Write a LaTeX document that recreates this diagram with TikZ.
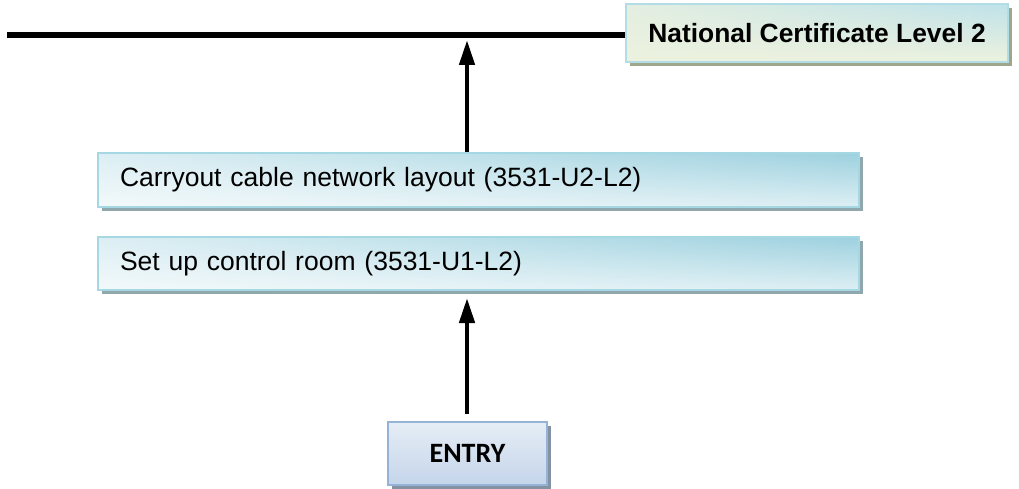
\documentclass[tikz,border=0pt]{standalone}
\usepackage{fontspec}
\setmainfont{Liberation Sans}
\newfontfamily\carlito{Carlito}
\usetikzlibrary{arrows.meta,shadows,fadings}
\definecolor{bluetop}{HTML}{9DD1DF}
\definecolor{bluebot}{HTML}{DDEFF4}
\definecolor{blueline}{HTML}{A6D8E4}
\definecolor{blueshadow}{HTML}{8FA7AD}
\definecolor{nctop}{HTML}{BFE2EA}
\definecolor{ncbot}{HTML}{EDF2DF}
\definecolor{ncline}{HTML}{B2DCE6}
\definecolor{ncshadow}{HTML}{9EA68C}
\definecolor{entrytop}{HTML}{E6EDF6}
\definecolor{entrybot}{HTML}{C4D5EA}
\definecolor{entryline}{HTML}{95B3D7}
\definecolor{entryshadow}{HTML}{8592A4}
\tikzfading[name=fadefromleft, left color=transparent!35, right color=transparent!100]
\tikzfading[name=ncfade, left color=transparent!20, right color=transparent!100]
\begin{document}
\begin{tikzpicture}[x=1pt,y=-1pt,
  bluebox/.style={rectangle, draw=blueline, line width=1.5pt,
    top color=bluetop, bottom color=bluebot,
    general shadow={fill=blueshadow, shadow xshift=4pt, shadow yshift=-4pt},
    minimum width=761pt, inner xsep=22pt, inner ysep=0pt,
    text width=717pt, align=left,
    font=\fontsize{26.5}{30}\selectfont,
    path picture={\fill[white, path fading=fadefromleft]
      (path picture bounding box.south west) rectangle (path picture bounding box.north east);}},
  ncbox/.style={rectangle, draw=ncline, line width=1.5pt,
    top color=nctop, bottom color=ncbot,
    general shadow={fill=ncshadow, shadow xshift=4pt, shadow yshift=-4pt},
    minimum width=382pt, minimum height=58pt, inner sep=0pt,
    font=\fontsize{26.4}{30}\selectfont\bfseries,
    path picture={\fill[ncbot, path fading=ncfade]
      (path picture bounding box.south west) rectangle (path picture bounding box.north east);}},
  entrybox/.style={rectangle, draw=entryline, line width=1.5pt,
    top color=entrytop, bottom color=entrybot,
    general shadow={fill=entryshadow, shadow xshift=4pt, shadow yshift=-4pt},
    minimum width=159pt, minimum height=63pt, inner sep=0pt,
    font=\carlito\fontsize{28}{32}\selectfont\bfseries},
  uparrow/.style={line width=4.5pt, -{Triangle[length=25pt,width=15pt]}},
  levelline/.style={line width=5.5pt}
]
\useasboundingbox (0,0) rectangle (1019,489);

\node[ncbox] (nc) at (817,33) {National Certificate Level 2};
\node[bluebox, minimum height=54pt] (carry) at (478.5,180) {Carryout cable network layout (3531-U2-L2)};
\node[bluebox, minimum height=53pt] (setup) at (478.5,263.5) {Set up control room (3531-U1-L2)};
\node[entrybox] (entry) at (467.5,453.5) {ENTRY};

\coordinate (lstart) at (7,35);
\coordinate (a1) at (467,40);
\coordinate (a2) at (467,298);

\draw[levelline] (lstart) -- (lstart -| nc.west);
\draw[uparrow] (a1 |- carry.north) -- (a1);
\draw[uparrow] ([yshift=7pt]entry.north -| a2) -- (a2);
\end{tikzpicture}
\end{document}
